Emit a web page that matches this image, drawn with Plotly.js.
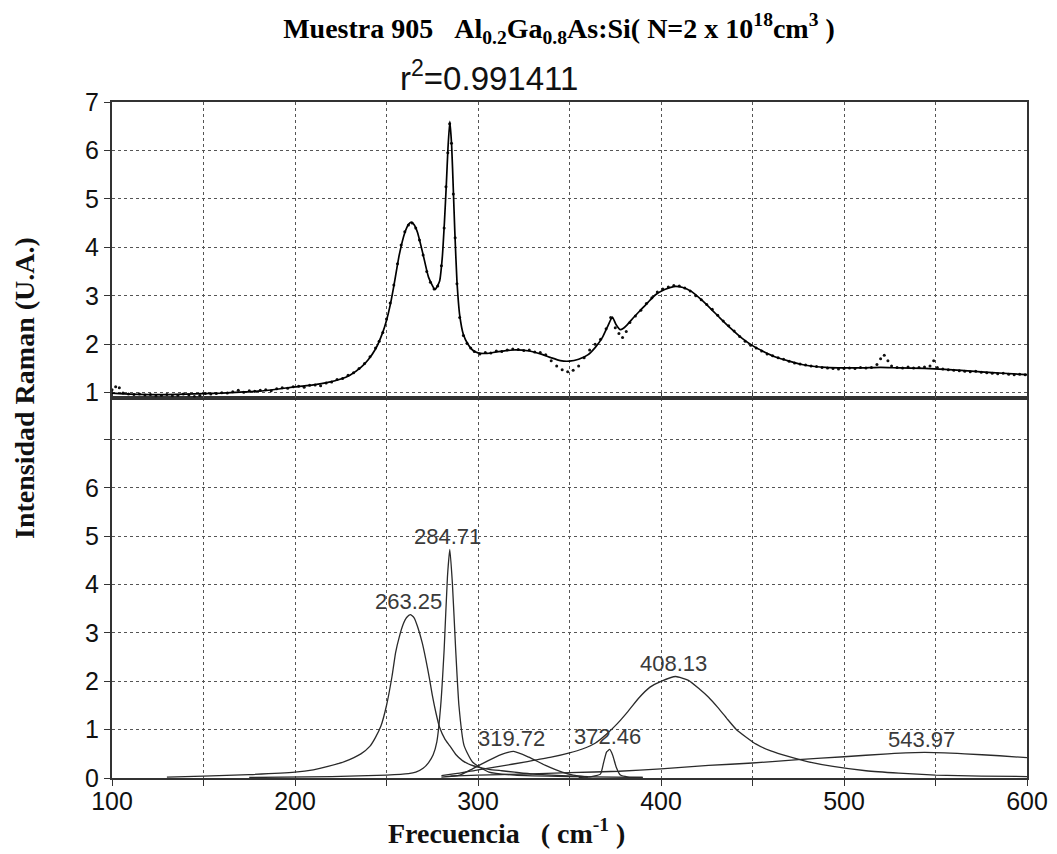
<!DOCTYPE html>
<html>
<head>
<meta charset="utf-8">
<script src="https://cdn.plot.ly/plotly-3.0.1.min.js"></script>
<style>body{margin:0;background:#fff;}#chart{width:1057px;height:854px;}</style>
</head>
<body>
<div id="chart"></div>
<script>
// ---- experimental Raman spectrum (dots, top panel) ----
const expX = [100,102,104,106,109,112,115,118,121,124,127,130,133,136,139,142,145,148,151,154,157,160,163,166,169,172,175,178,181,184,187,190,193,196,199,202,205,208,211,214,217,220,223,226,229,232,235,238,241,244,246,248,250,252,254,256,258,260,262,264,266,268,270,272,274,276,278,280,281.5,282.5,283.5,284.5,285.5,286.5,287.5,288.5,290,292,294,296,298,301,304,307,310,313,316,319,322,325,328,331,334,337,340,343,346,349,352,355,358,361,364,367,370,372.5,375,377,379,381,383,386,389,392,395,398,401,404,407,410,413,416,419,422,425,428,431,434,437,440,443,446,449,452,455,458,461,464,467,470,473,476,479,482,485,488,491,494,497,500,503,506,509,512,515,518,520,522,524,526,529,532,535,538,541,544,547,549,551,554,557,560,563,566,569,572,575,578,581,584,587,590,593,596,599];
const expY = [1.06,1.12,1.10,0.99,0.97,0.96,0.97,0.95,0.96,0.93,0.94,0.96,0.93,0.94,0.97,0.95,0.92,0.94,0.98,0.97,0.98,1.00,0.99,1.02,1.05,1.01,1.04,1.03,1.05,1.06,1.04,1.08,1.10,1.09,1.12,1.13,1.11,1.15,1.16,1.14,1.20,1.22,1.27,1.29,1.36,1.41,1.50,1.60,1.74,1.92,2.06,2.24,2.52,2.85,3.22,3.66,4.05,4.32,4.46,4.50,4.40,4.15,3.84,3.50,3.28,3.14,3.20,3.62,4.40,5.25,5.95,6.55,6.15,5.10,4.20,3.25,2.55,2.18,2.02,1.92,1.85,1.80,1.83,1.82,1.86,1.85,1.88,1.90,1.89,1.87,1.88,1.84,1.83,1.78,1.66,1.55,1.47,1.43,1.46,1.55,1.72,1.88,2.00,2.10,2.32,2.55,2.34,2.22,2.14,2.26,2.45,2.58,2.70,2.84,2.96,3.08,3.14,3.18,3.21,3.20,3.16,3.10,3.00,2.92,2.82,2.72,2.60,2.48,2.38,2.27,2.16,2.06,1.98,1.92,1.86,1.80,1.76,1.72,1.69,1.65,1.61,1.59,1.57,1.55,1.54,1.52,1.51,1.50,1.49,1.50,1.51,1.50,1.52,1.51,1.52,1.58,1.70,1.77,1.66,1.55,1.52,1.51,1.53,1.51,1.52,1.53,1.55,1.66,1.52,1.49,1.47,1.46,1.45,1.44,1.43,1.44,1.42,1.41,1.40,1.39,1.40,1.38,1.37,1.38,1.37];

// ---- fitted curve (top panel) ----
const fitX = [100,110,120,130,140,150,160,170,180,190,200,210,218,225,230,236,240,244,248,250,252,254,257,260,262,263.5,265,267,270,273,276.5,279,280.5,281.7,282.7,283.6,284.6,285.6,286.5,287.3,288.5,290,292,294.5,297,300,305,310,319,328,335,340,345,350,355,360,364,368,371,373.4,375.5,377.7,379.5,381.5,385,389,393,397,402,407,412,417,422,427,432,438,444,450,457,463,470,477,484,490,500,510,520,530,544,555,564,575,587,600];
const fitY = [0.99,0.97,0.96,0.96,0.97,0.98,0.99,1.01,1.03,1.07,1.12,1.16,1.21,1.28,1.36,1.52,1.68,1.90,2.25,2.49,2.80,3.20,3.85,4.30,4.47,4.52,4.47,4.30,3.85,3.38,3.13,3.30,3.80,4.55,5.30,6.05,6.60,6.10,5.20,4.35,3.30,2.60,2.20,2.00,1.88,1.82,1.81,1.84,1.88,1.86,1.79,1.72,1.66,1.65,1.69,1.78,1.93,2.14,2.38,2.56,2.40,2.30,2.33,2.40,2.55,2.71,2.87,3.02,3.13,3.19,3.17,3.08,2.92,2.74,2.55,2.33,2.13,1.97,1.83,1.73,1.65,1.58,1.54,1.52,1.51,1.51,1.52,1.51,1.50,1.48,1.46,1.43,1.40,1.37];

// ---- fitted components (bottom panel) ----
const c263X = [130,150,175,200,210,218,227,236,241,244,247,250,253,255,257,259,261,263,265,267,269.5,271.5,273.5,275,277,279,282,284.5,288,291.5,296,300.5,306,313,320,330,346,360];
const c263Y = [0.02,0.04,0.07,0.12,0.17,0.24,0.34,0.50,0.66,0.84,1.08,1.50,2.10,2.60,2.92,3.17,3.32,3.38,3.32,3.13,2.80,2.45,2.05,1.72,1.35,1.05,0.80,0.67,0.48,0.36,0.27,0.22,0.18,0.15,0.12,0.08,0.05,0.03];
const c285X = [175,220,250,262,266,270,273,275.5,277.5,279.6,281.5,283.3,284.6,286,287.8,289.6,292.4,297,306,320,350,390];
const c285Y = [0.01,0.03,0.06,0.09,0.12,0.20,0.32,0.48,0.75,1.49,2.66,4.16,4.73,4.03,2.66,1.49,0.67,0.33,0.12,0.06,0.03,0.01];
const c320X = [280,290,297,304,311.5,319.5,327.8,336.9,346,352,360];
const c320Y = [0.02,0.06,0.19,0.33,0.47,0.55,0.43,0.26,0.12,0.06,0.02];
const c372X = [355,362,366.9,368.7,370.3,372,373.6,375.5,377.8,382,390];
const c372Y = [0.01,0.03,0.08,0.33,0.54,0.59,0.47,0.23,0.06,0.02,0.01];
const c408X = [280,290,300,310,327,340,350,357,364,370,376,382,388,394,400,408,415,421,426,431,436,441,446,452,460,470,480,494,512,530,550,575,600];
const c408Y = [0.05,0.10,0.17,0.23,0.34,0.43,0.52,0.60,0.72,0.90,1.12,1.38,1.66,1.88,2.00,2.10,2.02,1.84,1.67,1.46,1.23,1.01,0.86,0.70,0.56,0.44,0.34,0.24,0.15,0.10,0.06,0.04,0.03];
const c544X = [285,300,325,350,377,400,426,450,475,500,524,544,566,585,600];
const c544Y = [0.04,0.06,0.08,0.11,0.14,0.19,0.26,0.31,0.38,0.44,0.50,0.53,0.50,0.46,0.42];

const peakLabels = ['263.25','284.71','319.72','372.46','408.13','543.97'];

// ---- ticks ----
const xTickVals = [100,150,200,250,300,350,400,450,500,550,600];
const xTickText = ['100','','200','','300','','400','','500','','600'];
const yTopTickVals = [1,2,3,4,5,6,7];
const yBotTickVals = [0,1,2,3,4,5,6,7];
const yBotTickText = ['0','1','2','3','4','5','6',''];

const components = [[c263X,c263Y],[c285X,c285Y],[c320X,c320Y],[c372X,c372Y],[c408X,c408Y],[c544X,c544Y]];

const traces = [];
traces.push({x: expX, y: expY, xaxis:'x', yaxis:'y2', type:'scatter', mode:'markers',
  marker:{size:3, color:'#111'}, hoverinfo:'skip', showlegend:false});
traces.push({x: fitX, y: fitY, xaxis:'x', yaxis:'y2', type:'scatter', mode:'lines',
  line:{color:'#000', width:1.7, shape:'spline', smoothing:0.5}, showlegend:false});
components.forEach(c => {
  traces.push({x: c[0], y: c[1], xaxis:'x', yaxis:'y', type:'scatter', mode:'lines',
    line:{color:'#2a2a2a', width:1.3, shape:'spline', smoothing:0.5}, showlegend:false});
});

const serif = 'Liberation Serif, Times New Roman, serif';
const sans = 'Liberation Sans, Arial, sans-serif';

const annotations = components.map((c, i) => {
  let k = 0;
  c[1].forEach((v, j) => { if (v > c[1][k]) k = j; });
  return {x: parseFloat(peakLabels[i]) - 1.5, y: c[1][k], xref:'x', yref:'y', text: peakLabels[i],
    showarrow:false, xanchor:'center', yanchor:'middle', yshift:13,
    font:{family:sans, size:22, color:'#3a3a3a'}};
});
annotations.push({text:'r<sup>2</sup>=0.991411', xref:'paper', yref:'paper',
  x:(489-112)/915, y:1+(102-76)/676, showarrow:false, xanchor:'center', yanchor:'middle',
  font:{family:sans, size:33, color:'#111'}});
annotations.push({text:'<b>Intensidad Raman (U.A.)</b>', xref:'paper', yref:'paper',
  x:(24-112)/915, y:(778-388)/676, textangle:-90, showarrow:false, xanchor:'center', yanchor:'middle',
  font:{family:serif, size:28, color:'#111'}});
annotations.push({text:'<b>Frecuencia\u00a0\u00a0\u00a0( cm<sup>-1</sup> )</b>', xref:'paper', yref:'paper',
  x:(506-112)/915, y:-(831-778)/676, showarrow:false, xanchor:'center', yanchor:'middle',
  font:{family:serif, size:28, color:'#111'}});

const gridStyle = {showgrid:true, gridcolor:'#555', griddash:'dot', gridwidth:1};
const layout = {
  width:1057, height:854,
  paper_bgcolor:'#fff', plot_bgcolor:'#fff',
  margin:{l:112, r:30, t:102, b:76},
  showlegend:false,
  title:{text:'<b>Muestra 905\u00a0\u00a0\u00a0Al<sub>0.2</sub>Ga<sub>0.8</sub>As:Si( N=2 x 10<sup>18</sup>cm<sup>3</sup> )</b>',
    font:{family:serif, size:28, color:'#000'}, xref:'container', yref:'container',
    x:559/1057, xanchor:'center', y:1-28/854, yanchor:'middle'},
  xaxis: Object.assign({range:[100,600], domain:[0,1], anchor:'y', tickmode:'array', tickvals:xTickVals, ticktext:xTickText,
    ticks:'outside', ticklen:6, tickwidth:1, tickcolor:'#333', showline:true, linecolor:'#333', linewidth:2,
    mirror:'all', zeroline:false, ticklabelstandoff:-6, tickfont:{family:sans, size:25, color:'#111'}}, gridStyle),
  yaxis: Object.assign({range:[0,7.87], domain:[0,0.5627], anchor:'x', tickmode:'array', tickvals:yBotTickVals, ticktext:yBotTickText,
    ticks:'outside', ticklen:6, tickwidth:1, tickcolor:'#333', showline:true, linecolor:'#333', linewidth:2,
    mirror:true, zeroline:false, tickfont:{family:sans, size:25, color:'#111'}}, gridStyle),
  yaxis2: Object.assign({range:[0.897,7], domain:[0.5627,1], anchor:'x', tickmode:'array', tickvals:yTopTickVals,
    ticks:'outside', ticklen:6, tickwidth:1, tickcolor:'#333', showline:true, linecolor:'#333', linewidth:2,
    mirror:true, zeroline:false, tickfont:{family:sans, size:25, color:'#111'}}, gridStyle),
  annotations: annotations
};

Plotly.newPlot('chart', traces, layout, {displayModeBar:false, staticPlot:true});
</script>
</body>
</html>
